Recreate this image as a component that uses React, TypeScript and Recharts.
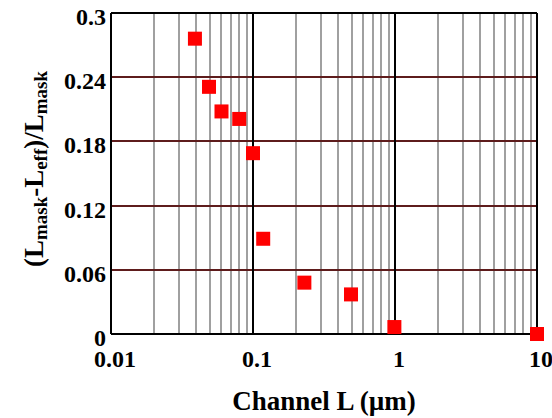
import React from "react"
import {
  ScatterChart,
  Scatter,
  XAxis,
  YAxis,
  ReferenceLine,
} from "recharts"

// channel length (um) and relative shortening
const channelL = [0.039, 0.049, 0.06, 0.08, 0.1, 0.118, 0.23, 0.49, 0.99, 10]
const deltaL = [0.276, 0.231, 0.208, 0.201, 0.169, 0.089, 0.048, 0.037, 0.0065, 0]

const xTicks = [0.01, 0.1, 1, 10]
const yTicks = [0, 0.06, 0.12, 0.18, 0.24, 0.3]
const minorX = [
  0.02, 0.03, 0.04, 0.05, 0.06, 0.07, 0.08, 0.09,
  0.2, 0.3, 0.4, 0.5, 0.6, 0.7, 0.8, 0.9,
  2, 3, 4, 5, 6, 7, 8, 9,
]
const innerY = [0.06, 0.12, 0.18, 0.24]
const decadeX = [0.01, 0.1, 1, 10]

const data = channelL.map((l, i) => ({ l, d: deltaL[i] }))

const font = "'Liberation Serif', 'Times New Roman', serif"

// snap lines to whole pixels so the 2px strokes stay crisp
const CrispLine = (props: any) => {
  const { x1, y1, x2, y2, stroke } = props
  return (
    <line
      x1={Math.round(x1)}
      y1={Math.round(y1)}
      x2={Math.round(x2)}
      y2={Math.round(y2)}
      stroke={stroke}
      strokeWidth={2}
    />
  )
}

const XTick = ({ x, y, payload }: any) => (
  <text x={x + 4} y={y + 33} textAnchor="middle" fontFamily={font} fontWeight="bold" fontSize={24} fill="#000">
    {payload.value}
  </text>
)

const YTick = ({ x, y, payload }: any) => (
  <text x={x - 5} y={y + 12} textAnchor="end" fontFamily={font} fontWeight="bold" fontSize={24} fill="#000">
    {payload.value}
  </text>
)

const Square = ({ cx, cy }: any) => (
  <rect x={cx - 7} y={cy - 7} width={14} height={14} fill="#ff0000" />
)

const XTitle = ({ viewBox }: any) => (
  <text
    x={viewBox.x + viewBox.width / 2}
    y={viewBox.y + 76}
    textAnchor="middle"
    fontFamily={font}
    fontWeight="bold"
    fontSize={27}
    fill="#000"
  >
    Channel L (µm)
  </text>
)

const YTitle = () => {
  const cx = 43
  const cy = 169
  return (
    <text
      x={cx}
      y={cy}
      transform={`rotate(-90, ${cx}, ${cy})`}
      textAnchor="middle"
      fontFamily={font}
      fontWeight="bold"
      fontSize={27}
      fill="#000"
    >
      <tspan>(L</tspan>
      <tspan fontSize={19} dy={4}>mask</tspan>
      <tspan dy={-4}>-L</tspan>
      <tspan fontSize={19} dy={4}>eff</tspan>
      <tspan dy={-4}>)/L</tspan>
      <tspan fontSize={19} dy={4}>mask</tspan>
    </text>
  )
}

export default function App() {
  return (
    <div style={{ position: "absolute", left: 0, top: 0, background: "#fff" }}>
      <ScatterChart width={552} height={418} margin={{ top: 13, right: 15, bottom: 0, left: 0 }}>
        <XAxis
          type="number"
          dataKey="l"
          scale="log"
          domain={[0.01, 10]}
          ticks={xTicks}
          axisLine={false}
          tickLine={false}
          tickSize={0}
          tickMargin={0}
          height={84}
          tick={<XTick />}
          interval={0}
          label={<XTitle />}
        />
        <YAxis
          type="number"
          dataKey="d"
          domain={[0, 0.3]}
          ticks={yTicks}
          axisLine={false}
          tickLine={false}
          tickSize={0}
          tickMargin={0}
          width={111}
          tick={<YTick />}
          interval={0}
          label={<YTitle />}
        />
        {minorX.map((v) => (
          <ReferenceLine key={"m" + v} x={v} stroke="#a0a0a0" shape={<CrispLine />} />
        ))}
        {innerY.map((v) => (
          <ReferenceLine key={"h" + v} y={v} stroke="#5e1c1c" shape={<CrispLine />} />
        ))}
        {decadeX.map((v) => (
          <ReferenceLine key={"d" + v} x={v} stroke="#000" shape={<CrispLine />} />
        ))}
        <ReferenceLine y={0} stroke="#000" shape={<CrispLine />} />
        <ReferenceLine y={0.3} stroke="#000" shape={<CrispLine />} />
        <Scatter data={data} shape={<Square />} isAnimationActive={false} />
      </ScatterChart>
    </div>
  )
}
